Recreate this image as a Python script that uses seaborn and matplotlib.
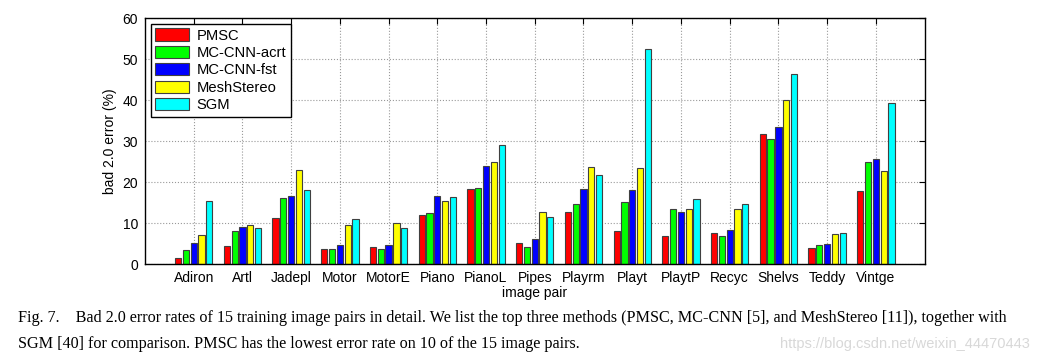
import seaborn as sns
import matplotlib.pyplot as plt
import pandas as pd

pairs = ["Adiron", "Artl", "Jadepl", "Motor", "MotorE", "Piano", "PianoL", "Pipes",
         "Playrm", "Playt", "PlaytP", "Recyc", "Shelvs", "Teddy", "Vintge"]
methods = ["PMSC", "MC-CNN-acrt", "MC-CNN-fst", "MeshStereo", "SGM"]

pmsc = [1.5, 4.4, 11.2, 3.7, 4.1, 11.9, 18.2, 5.2, 12.7, 8.1, 6.9, 7.6, 31.6, 3.8, 17.9]
mccnn_acrt = [3.3, 8.1, 16.1, 3.7, 3.7, 12.5, 18.5, 4.1, 14.6, 15.1, 13.3, 6.9, 30.6, 4.7, 24.9]
mccnn_fst = [5.1, 9.1, 16.7, 4.7, 4.6, 16.6, 24.0, 6.2, 18.4, 18.0, 12.7, 8.2, 33.5, 5.0, 25.5]
meshstereo = [7.1, 9.5, 22.9, 9.4, 10.1, 15.4, 24.9, 12.8, 23.7, 23.4, 13.3, 13.5, 40.0, 7.2, 22.6]
sgm = [15.3, 8.8, 18.0, 11.0, 8.9, 16.3, 29.1, 11.5, 21.8, 52.5, 15.9, 14.6, 46.4, 7.5, 39.3]

colors = ["#ff0000", "#00ff00", "#0000ff", "#ffff00", "#00ffff"]

rows = []
for m, vals in zip(methods, [pmsc, mccnn_acrt, mccnn_fst, meshstereo, sgm]):
    for p, v in zip(pairs, vals):
        rows.append({"pair": p, "method": m, "error": v})
df = pd.DataFrame(rows)

sns.set_style("white")
plt.rcParams["font.family"] = ["Liberation Sans", "DejaVu Sans"]
plt.rcParams["text.color"] = "black"
plt.rcParams["axes.labelcolor"] = "black"
plt.rcParams["xtick.color"] = "black"
plt.rcParams["ytick.color"] = "black"

fig = plt.figure(figsize=(10.4, 3.64), dpi=100)
ax = fig.add_axes([0.1394, 0.2747, 0.7496, 0.6758])

sns.barplot(data=df, x="pair", y="error", hue="method", palette=colors,
            saturation=1, width=0.8, gap=0.2, edgecolor="0.25", linewidth=0.8, ax=ax)

ax.set_xlim(-1, 15)
ax.set_ylim(0, 60)
ax.set_yticks(range(0, 61, 10))
ax.grid(True, linestyle=":", color="0.6", linewidth=0.8)
ax.set_axisbelow(True)
ax.tick_params(direction="in", top=True, right=True, length=4, labelsize=10, pad=5)
for s in ax.spines.values():
    s.set_color("black")
    s.set_linewidth(1.0)
ax.set_xlabel("image pair", fontsize=10, labelpad=1)
ax.set_ylabel("bad 2.0 error (%)", fontsize=10)

ax.legend(loc="upper left", fontsize=10.6, handlelength=2.3, handleheight=0.9,
          fancybox=False, edgecolor="black", framealpha=1, borderaxespad=0.4,
          labelspacing=0.22, handletextpad=0.5, borderpad=0.3)

fig.text(0.017, 0.125,
         "Fig. 7.    Bad 2.0 error rates of 15 training image pairs in detail. We list the top three methods "
         "(PMSC, MC-CNN [5], and MeshStereo [11]), together with",
         family="Liberation Serif", fontsize=11.65, va="center")
fig.text(0.017, 0.055,
         "SGM [40] for comparison. PMSC has the lowest error rate on 10 of the 15 image pairs.",
         family="Liberation Serif", fontsize=11.65, va="center")
fig.text(0.99, 0.055, "https://blog.csdn.net/weixin_44470443",
         fontsize=10.5, color="#d8d8d8", ha="right", va="center")

fig.savefig("out.png", dpi=100)
